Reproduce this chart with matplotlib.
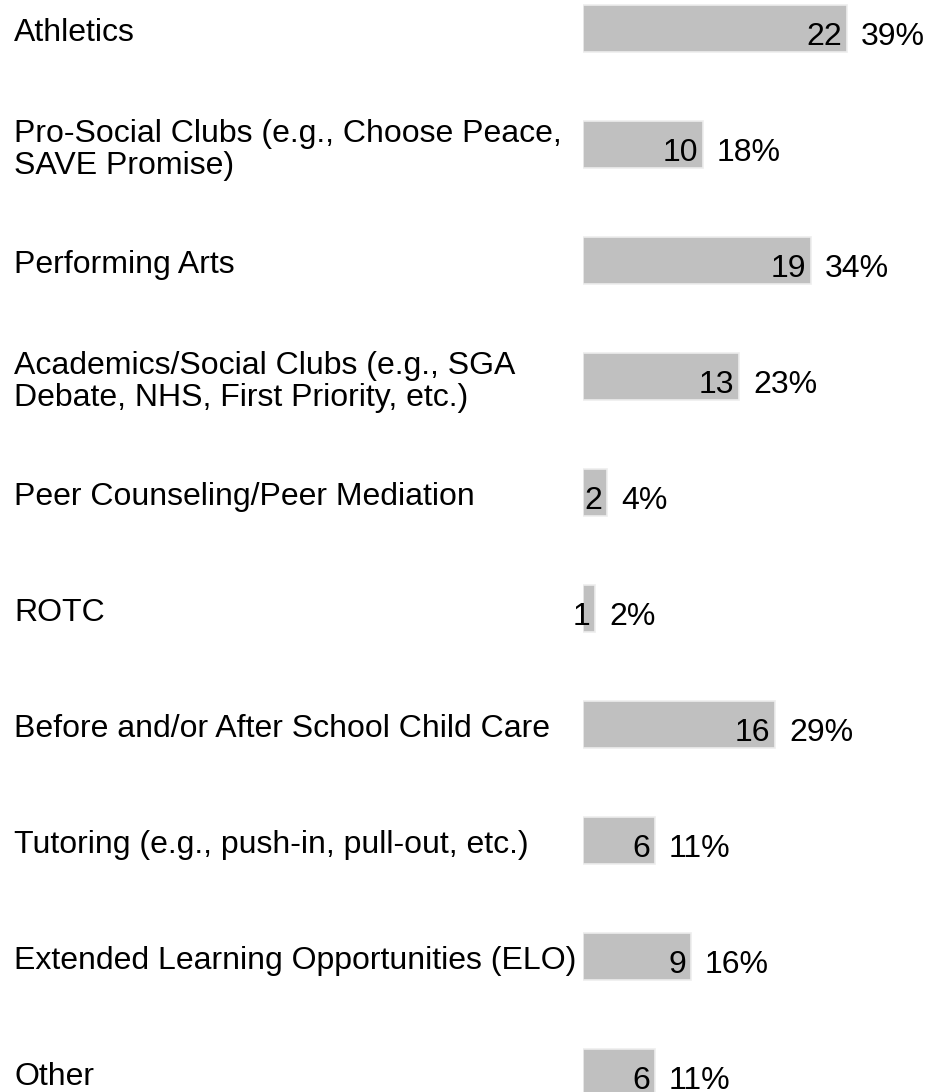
import matplotlib
matplotlib.use("Agg")
import matplotlib.pyplot as plt

categories = [
    "Athletics",
    "Pro-Social Clubs (e.g., Choose Peace,\nSAVE Promise)",
    "Performing Arts",
    "Academics/Social Clubs (e.g., SGA\nDebate, NHS, First Priority, etc.)",
    "Peer Counseling/Peer Mediation",
    "ROTC",
    "Before and/or After School Child Care",
    "Tutoring (e.g., push-in, pull-out, etc.)",
    "Extended Learning Opportunities (ELO)",
    "Other",
]
counts = [22, 10, 19, 13, 2, 1, 16, 6, 9, 6]
percents = [39, 18, 34, 23, 4, 2, 29, 11, 16, 11]

plt.rcParams['font.family'] = ['Liberation Sans', 'DejaVu Sans']
FS = 23

W, H = 930, 1092
fig = plt.figure(figsize=(W / 100, H / 100), dpi=100)

bar_left_px = 583
px_per_unit = 12.0
first_center_px = 28.5
spacing_px = 116.0

ax = fig.add_axes([bar_left_px / W, 0, 1 - bar_left_px / W, 1])
ax.set_xlim(0, (W - bar_left_px) / px_per_unit)
ax.set_ylim((H - first_center_px) / spacing_px, -first_center_px / spacing_px)
ax.axis('off')

ypos = list(range(len(categories)))
ax.barh(ypos, counts, height=47 / spacing_px, color='#c0c0c0',
        edgecolor='#ededed', linewidth=1.2)

LINE_GAP = 31.3
for y, c, p, lab in zip(ypos, counts, percents, categories):
    ax.annotate(str(c), xy=(c, y), xytext=(-5, -16.5), textcoords='offset pixels',
                ha='right', va='baseline', fontsize=FS, color='black')
    ax.annotate(f"{p}%", xy=(c, y), xytext=(14, -16.5), textcoords='offset pixels',
                ha='left', va='baseline', fontsize=FS, color='black')
    lines = lab.split('\n')
    if len(lines) == 1:
        first_off = -12.5
    else:
        first_off = 2.3
    for i, line in enumerate(lines):
        ax.annotate(line, xy=(14, y), xycoords=('figure pixels', 'data'),
                    xytext=(0, first_off - i * LINE_GAP), textcoords='offset pixels',
                    ha='left', va='baseline', fontsize=FS, color='black',
                    annotation_clip=False)

fig.savefig("out.png", dpi=100, facecolor='white')
